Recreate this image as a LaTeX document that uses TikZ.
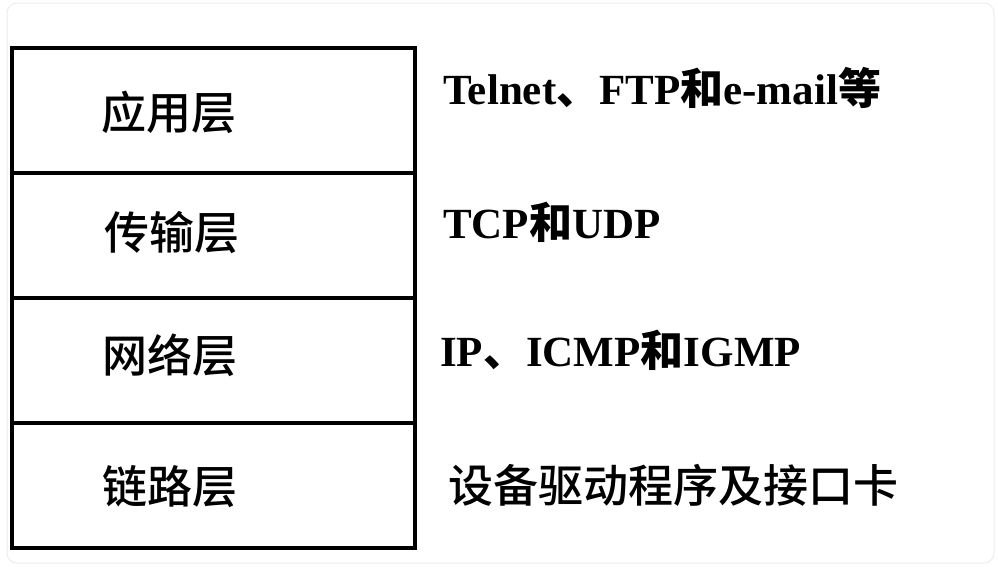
\documentclass[tikz,border=0pt]{standalone}
\usepackage{fontspec}
\setmainfont{Liberation Serif}
\newfontfamily\cjk{Noto Sans CJK SC Medium}
\begin{document}
\begin{tikzpicture}[x=1pt,y=-1pt,
  layer/.style={draw=black,line width=4pt,minimum width=403pt,minimum height=125pt,inner sep=0pt},
  lbl/.style={font=\fontsize{45}{50}\selectfont\cjk,inner sep=0pt},
  proto/.style={font=\fontsize{43}{48}\selectfont\bfseries,anchor=west,inner sep=0pt}]
\useasboundingbox (0,0) rectangle (998,566);
\draw[black!8,line width=1pt,rounded corners=10pt] (7,3) rectangle (994,563);
\node[layer] (app) at (213.5,110.5) {};
\node[layer] (tra) at (213.5,235.5) {};
\node[layer] (net) at (213.5,360.5) {};
\node[layer] (lnk) at (213.5,485.5) {};
\node[lbl] (lapp) at (169,112) {应用层};
\node[lbl] (ltra) at (172,233) {传输层};
\node[lbl] (lnet) at (170,355) {网络层};
\node[lbl] (llnk) at (170,487) {链路层};
\node[proto] (papp) at (443,88) {Telnet{\cjk 、}FTP{\cjk 和}e-mail{\cjk 等}};
\node[proto] (ptra) at (443,222) {TCP{\cjk 和}UDP};
\node[proto] (pnet) at (440,350) {IP{\cjk 、}ICMP{\cjk 和}IGMP};
\node[lbl,anchor=west] (plnk) at (448,485) {设备驱动程序及接口卡};
\end{tikzpicture}
\end{document}
